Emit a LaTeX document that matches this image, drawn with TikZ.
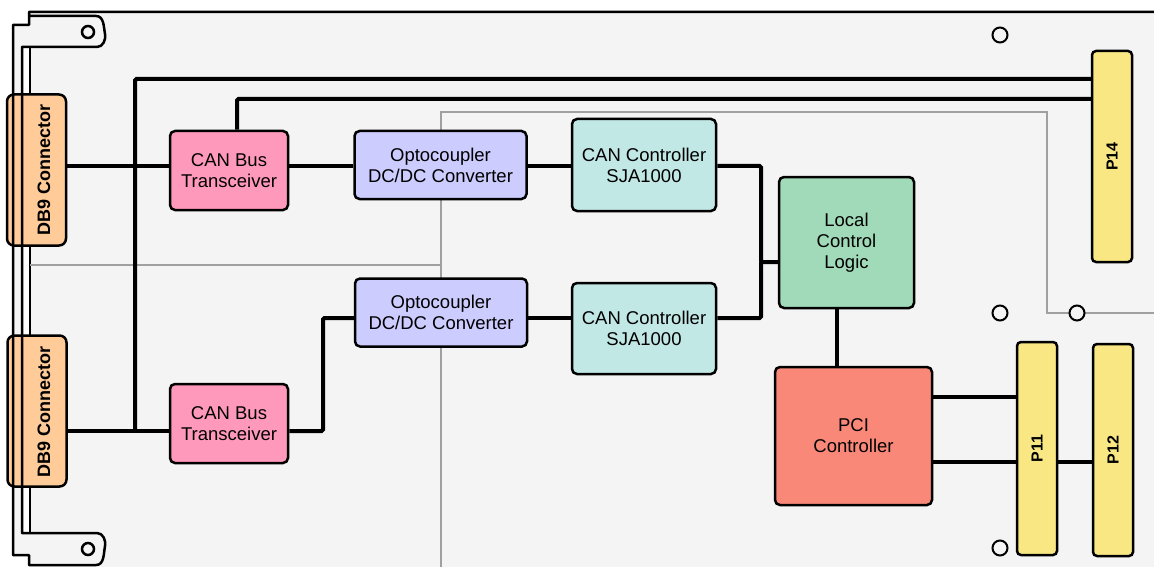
\documentclass[tikz,border=0pt]{standalone}
\usepackage{fontspec}
\setmainfont{Liberation Sans}
\definecolor{bg}{HTML}{F4F4F4}
\definecolor{pinkc}{HTML}{FF99BB}
\definecolor{lav}{HTML}{CCCCFF}
\definecolor{cyanc}{HTML}{C2E8E6}
\definecolor{mint}{HTML}{A0DAB8}
\definecolor{salmon}{HTML}{FA8878}
\definecolor{yel}{HTML}{F9E784}
\definecolor{peach}{HTML}{FFCC99}
\definecolor{greyl}{HTML}{A0A0A0}
\tikzset{
  box/.style={draw=black, line width=2.5pt, rounded corners=5pt, align=center, inner sep=0pt,
    font=\fontsize{18.5}{21}\selectfont},
  pconn/.style={draw=black, line width=2.5pt, rounded corners=4pt, fill=yel, inner sep=0pt,
    minimum width=40pt},
  ptext/.style={rotate=90, font=\fontsize{16}{19}\selectfont\bfseries},
  dbbox/.style={draw=black, line width=2.5pt, rounded corners=7pt, fill=peach, inner sep=0pt,
    minimum width=59pt, minimum height=151pt},
  dbtext/.style={rotate=90, font=\fontsize{18}{21}\selectfont\bfseries},
  wire/.style={line width=4pt, rounded corners=1.5pt},
  gwire/.style={draw=greyl, line width=2pt},
  hole/.style={draw=black, line width=2pt, fill=bg},
  outline/.style={draw=black, line width=2.5pt, line join=round},
}
\begin{document}
\begin{tikzpicture}[x=1pt,y=-1pt]
\useasboundingbox (0,0) rectangle (1154,567);
\fill[white] (0,0) rectangle (1154,567);
% panel
\fill[bg] (13,25) -- (29,25) -- (29,12) -- (1154,12) -- (1154,567) -- (29,567) -- (29,555) -- (13,555) -- cycle;
\fill[white] (22,47) rectangle (30,533);
\draw[outline] (30,47) -- (30,533);
% grey lines
\draw[gwire] (30,265) -- (441,265);
\draw[gwire] (441,567) -- (441,112) -- (1047,112) -- (1047,313) -- (1154,313);
% holes
\node[hole, circle, minimum size=15pt, inner sep=0pt] (h1) at (1000,35) {};
\node[hole, circle, minimum size=15pt, inner sep=0pt] (h2) at (1000,313) {};
\node[hole, circle, minimum size=15pt, inner sep=0pt] (h3) at (1077,313) {};
\node[hole, circle, minimum size=15pt, inner sep=0pt] (h4) at (1000,548) {};
% nodes
\node[dbbox] (dbt) at (36.5,170) {};
\node[dbbox] (dbb) at (37,411) {};
\node[box, fill=pinkc, minimum width=118pt, minimum height=79pt] (trt) at (229,170.5) {CAN Bus\\Transceiver};
\node[box, fill=pinkc, minimum width=118pt, minimum height=79pt] (trb) at (229,423.5) {CAN Bus\\Transceiver};
\node[box, fill=lav, minimum width=172pt, minimum height=68pt] (opt) at (440.5,165) {Optocoupler\\DC/DC Converter};
\node[box, fill=lav, minimum width=172pt, minimum height=68pt] (opb) at (441,312.5) {Optocoupler\\DC/DC Converter};
\node[box, fill=cyanc, minimum width=144pt, minimum height=92pt] (cct) at (644,165) {CAN Controller\\SJA1000};
\node[box, fill=cyanc, minimum width=144pt, minimum height=91pt] (ccb) at (644,328.5) {CAN Controller\\SJA1000};
\node[box, fill=mint, minimum width=135pt, minimum height=131pt] (lcl) at (846.5,242.5) {Local\\Control\\Logic};
\node[box, fill=salmon, minimum width=157pt, minimum height=138pt] (pci) at (853.5,436) {PCI\\Controller};
\node[pconn, minimum height=211pt] (p14) at (1112,156.5) {};
\node[pconn, minimum height=213pt] (p11) at (1037,448.5) {};
\node[pconn, minimum height=212pt] (p12) at (1113,450) {};
\node[ptext] (p14t) at (p14.center) {P14};
\node[ptext] (p11t) at (p11.center) {P11};
\node[ptext] (p12t) at (p12.center) {P12};
% wires
\coordinate (jn) at (761,262);
\coordinate (tb) at (135,431);
\coordinate (bend) at (323,318);
\draw[wire] (dbt.east |- 0,166) -- (trt.west |- 0,166);
\draw[wire] (trt.east |- 0,166) -- (opt.west |- 0,166);
\draw[wire] (opt.east |- 0,166) -- (cct.west |- 0,166);
\draw[wire] (cct.east |- 0,166) -| (jn) -- (lcl.west |- jn);
\draw[wire] (ccb.east |- 0,318) -| (jn);
\draw[wire] (dbb.east |- 0,431) -- (trb.west |- 0,431);
\draw[wire] (tb) |- (p14.west |- 0,79);
\draw[wire] (trt.north -| 237,0) |- (p14.west |- 0,99);
\draw[wire] (trb.east |- 0,431) -| (bend) -- (opb.west |- bend);
\draw[wire] (opb.east |- 0,318) -- (ccb.west |- 0,318);
\draw[wire] (lcl.south -| 837,0) -- (pci.north -| 837,0);
\draw[wire] (pci.east |- 0,397) -- (p11.west |- 0,397);
\draw[wire] (pci.east |- 0,462) -- (p11.west |- 0,462);
\draw[wire] (p11.east |- 0,462) -- (p12.west |- 0,462);
% DB9 labels
\node[dbtext] (dbtt) at (44,170) {DB9 Connector};
\node[dbtext] (dbbt) at (44,412) {DB9 Connector};
% panel outline
\draw[outline] (29,16) -- (96,16) to[out=0,in=100] (105,34) to[out=-80,in=0] (97,47) -- (22,47) -- (22,533) -- (97,533) to[out=0,in=80] (105,546) to[out=-100,in=0] (96,565) -- (29,565) -- (29,555) -- (13,555) -- (13,25) -- (29,25) -- (29,12) -- (1154,12);
\node[hole, circle, line width=2.5pt, minimum size=12pt, inner sep=0pt] (e1) at (88,32) {};
\node[hole, circle, line width=2.5pt, minimum size=12pt, inner sep=0pt] (e2) at (88,549) {};
\end{tikzpicture}
\end{document}
